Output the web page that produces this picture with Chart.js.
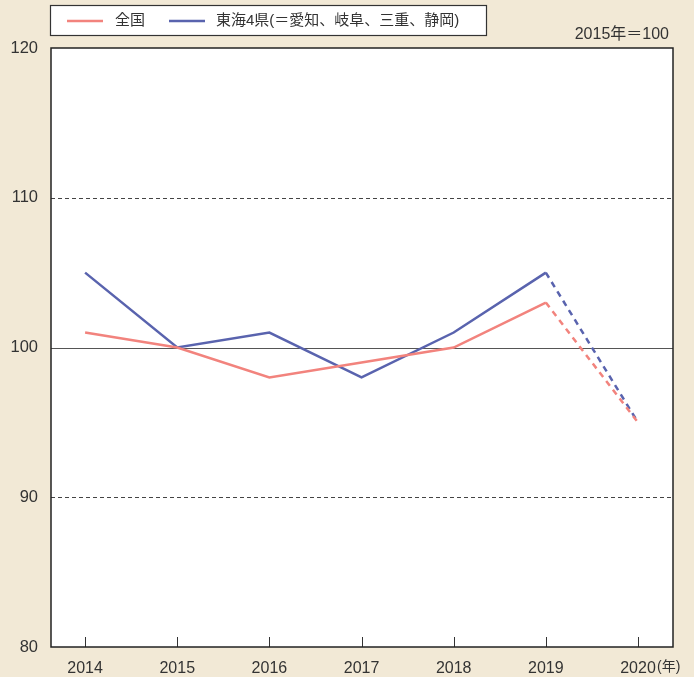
<!DOCTYPE html>
<html>
<head>
<meta charset="utf-8">
<script src="https://cdn.jsdelivr.net/npm/chart.js@4"></script>
<style>
  html, body { margin: 0; padding: 0; background: #f2e9d6; }
  #wrap { width: 694px; height: 677px; }
</style>
</head>
<body>
<div id="wrap"><canvas id="myChart" width="694" height="677"></canvas></div>
<script>
const years = [2014, 2015, 2016, 2017, 2018, 2019, 2020];
const zenkoku = [101, 100, 98, 99, 100, 103, 95];
const tokai = [105, 100, 101, 98, 101, 105, 95];
const yTicks = [80, 90, 100, 110, 120];
const seriesNames = ["全国", "東海4県(＝愛知、岐阜、三重、静岡)"];
const baseNote = "2015年＝100";

const FONT = "'Liberation Sans', 'Noto Sans CJK JP', sans-serif";
const PINK = "#f2837d";
const BLUE = "#5963ae";

// 2019→2020 は破線
function dashLast(ctx) {
  return ctx.p1DataIndex === years.length - 1 ? [6, 5] : undefined;
}

function toPoints(vals) {
  return years.map((y, i) => ({ x: y, y: vals[i] }));
}

// 枠、目盛り線、凡例などを描く
const decor = {
  id: "decor",
  beforeDatasetsDraw(chart) {
    const c = chart.ctx, a = chart.chartArea;
    const ys = chart.scales.y, xs = chart.scales.x;
    c.save();
    c.fillStyle = "#fff";
    c.fillRect(a.left, a.top, a.right - a.left, a.bottom - a.top);
    [90, 110].forEach(v => {
      const py = Math.round(ys.getPixelForValue(v)) + 0.5;
      c.strokeStyle = "#444";
      c.lineWidth = 1;
      c.setLineDash([4, 3]);
      c.beginPath(); c.moveTo(a.left, py); c.lineTo(a.right, py); c.stroke();
    });
    c.setLineDash([]);
    const p100 = Math.round(ys.getPixelForValue(100)) + 0.5;
    c.strokeStyle = "#555";
    c.lineWidth = 1.2;
    c.beginPath(); c.moveTo(a.left, p100); c.lineTo(a.right, p100); c.stroke();
    // x 軸の内向き目盛り
    c.strokeStyle = "#333";
    c.lineWidth = 1;
    years.forEach(yr => {
      const px = Math.round(xs.getPixelForValue(yr)) + 0.5;
      c.beginPath(); c.moveTo(px, a.bottom); c.lineTo(px, a.bottom - 10); c.stroke();
    });
    c.restore();
  },
  afterDraw(chart) {
    const c = chart.ctx, a = chart.chartArea;
    const xs = chart.scales.x;
    c.save();
    c.strokeStyle = "#222";
    c.lineWidth = 1.5;
    c.strokeRect(a.left, a.top, a.right - a.left, a.bottom - a.top);

    // 凡例
    c.fillStyle = "#fff";
    c.fillRect(50, 5, 437, 30);
    c.strokeStyle = "#333";
    c.lineWidth = 1.2;
    c.strokeRect(50.5, 5.5, 436, 30);
    c.font = "15px " + FONT;
    c.textBaseline = "middle";
    c.lineWidth = 2.5;
    const items = [[67, PINK, seriesNames[0], 115], [169, BLUE, seriesNames[1], 216]];
    items.forEach(([x, col, txt, tx]) => {
      c.strokeStyle = col;
      c.beginPath(); c.moveTo(x, 21); c.lineTo(x + 36, 21); c.stroke();
      c.fillStyle = "#333";
      c.textAlign = "left";
      c.fillText(txt, tx, 21);
    });

    c.font = "16px " + FONT;
    c.textAlign = "right";
    c.fillText(baseNote, 669, 35);

    // 2020 の後ろの (年)
    const px = xs.getPixelForValue(2020);
    c.textAlign = "left";
    c.font = "14px " + FONT;
    c.fillText("(年)", px + 19, 667);
    c.restore();
  }
};

const config = {
  type: "line",
  data: {
    datasets: [
      {
        label: seriesNames[0],
        data: toPoints(zenkoku),
        borderColor: PINK,
        borderWidth: 2.5,
        pointRadius: 0,
        tension: 0,
        segment: { borderDash: dashLast },
      },
      {
        label: seriesNames[1],
        data: toPoints(tokai),
        borderColor: BLUE,
        borderWidth: 2.5,
        pointRadius: 0,
        tension: 0,
        segment: { borderDash: dashLast },
      },
    ],
  },
  options: {
    responsive: false,
    animation: false,
    layout: { padding: { top: 48, right: 21, left: 0, bottom: 0 } },
    plugins: { legend: { display: false }, tooltip: { enabled: false } },
    scales: {
      x: {
        type: "linear",
        min: 2013.63,
        max: 2020.38,
        afterBuildTicks(scale) { scale.ticks = years.map(v => ({ value: v })); },
        afterFit(scale) { scale.height = 30; },
        grid: { display: false },
        border: { display: false },
        ticks: {
          color: "#333",
          font: { family: FONT, size: 16 },
          padding: 4,
          maxRotation: 0,
          callback: v => String(v),
        },
      },
      y: {
        min: 80,
        max: 120,
        afterBuildTicks(scale) { scale.ticks = yTicks.map(v => ({ value: v })); },
        afterFit(scale) { scale.width = 51; },
        grid: { display: false },
        border: { display: false },
        ticks: {
          color: "#333",
          font: { family: FONT, size: 16.5 },
          padding: 5,
        },
      },
    },
  },
  plugins: [decor],
};

new Chart(document.getElementById("myChart"), config);
</script>
</body>
</html>
